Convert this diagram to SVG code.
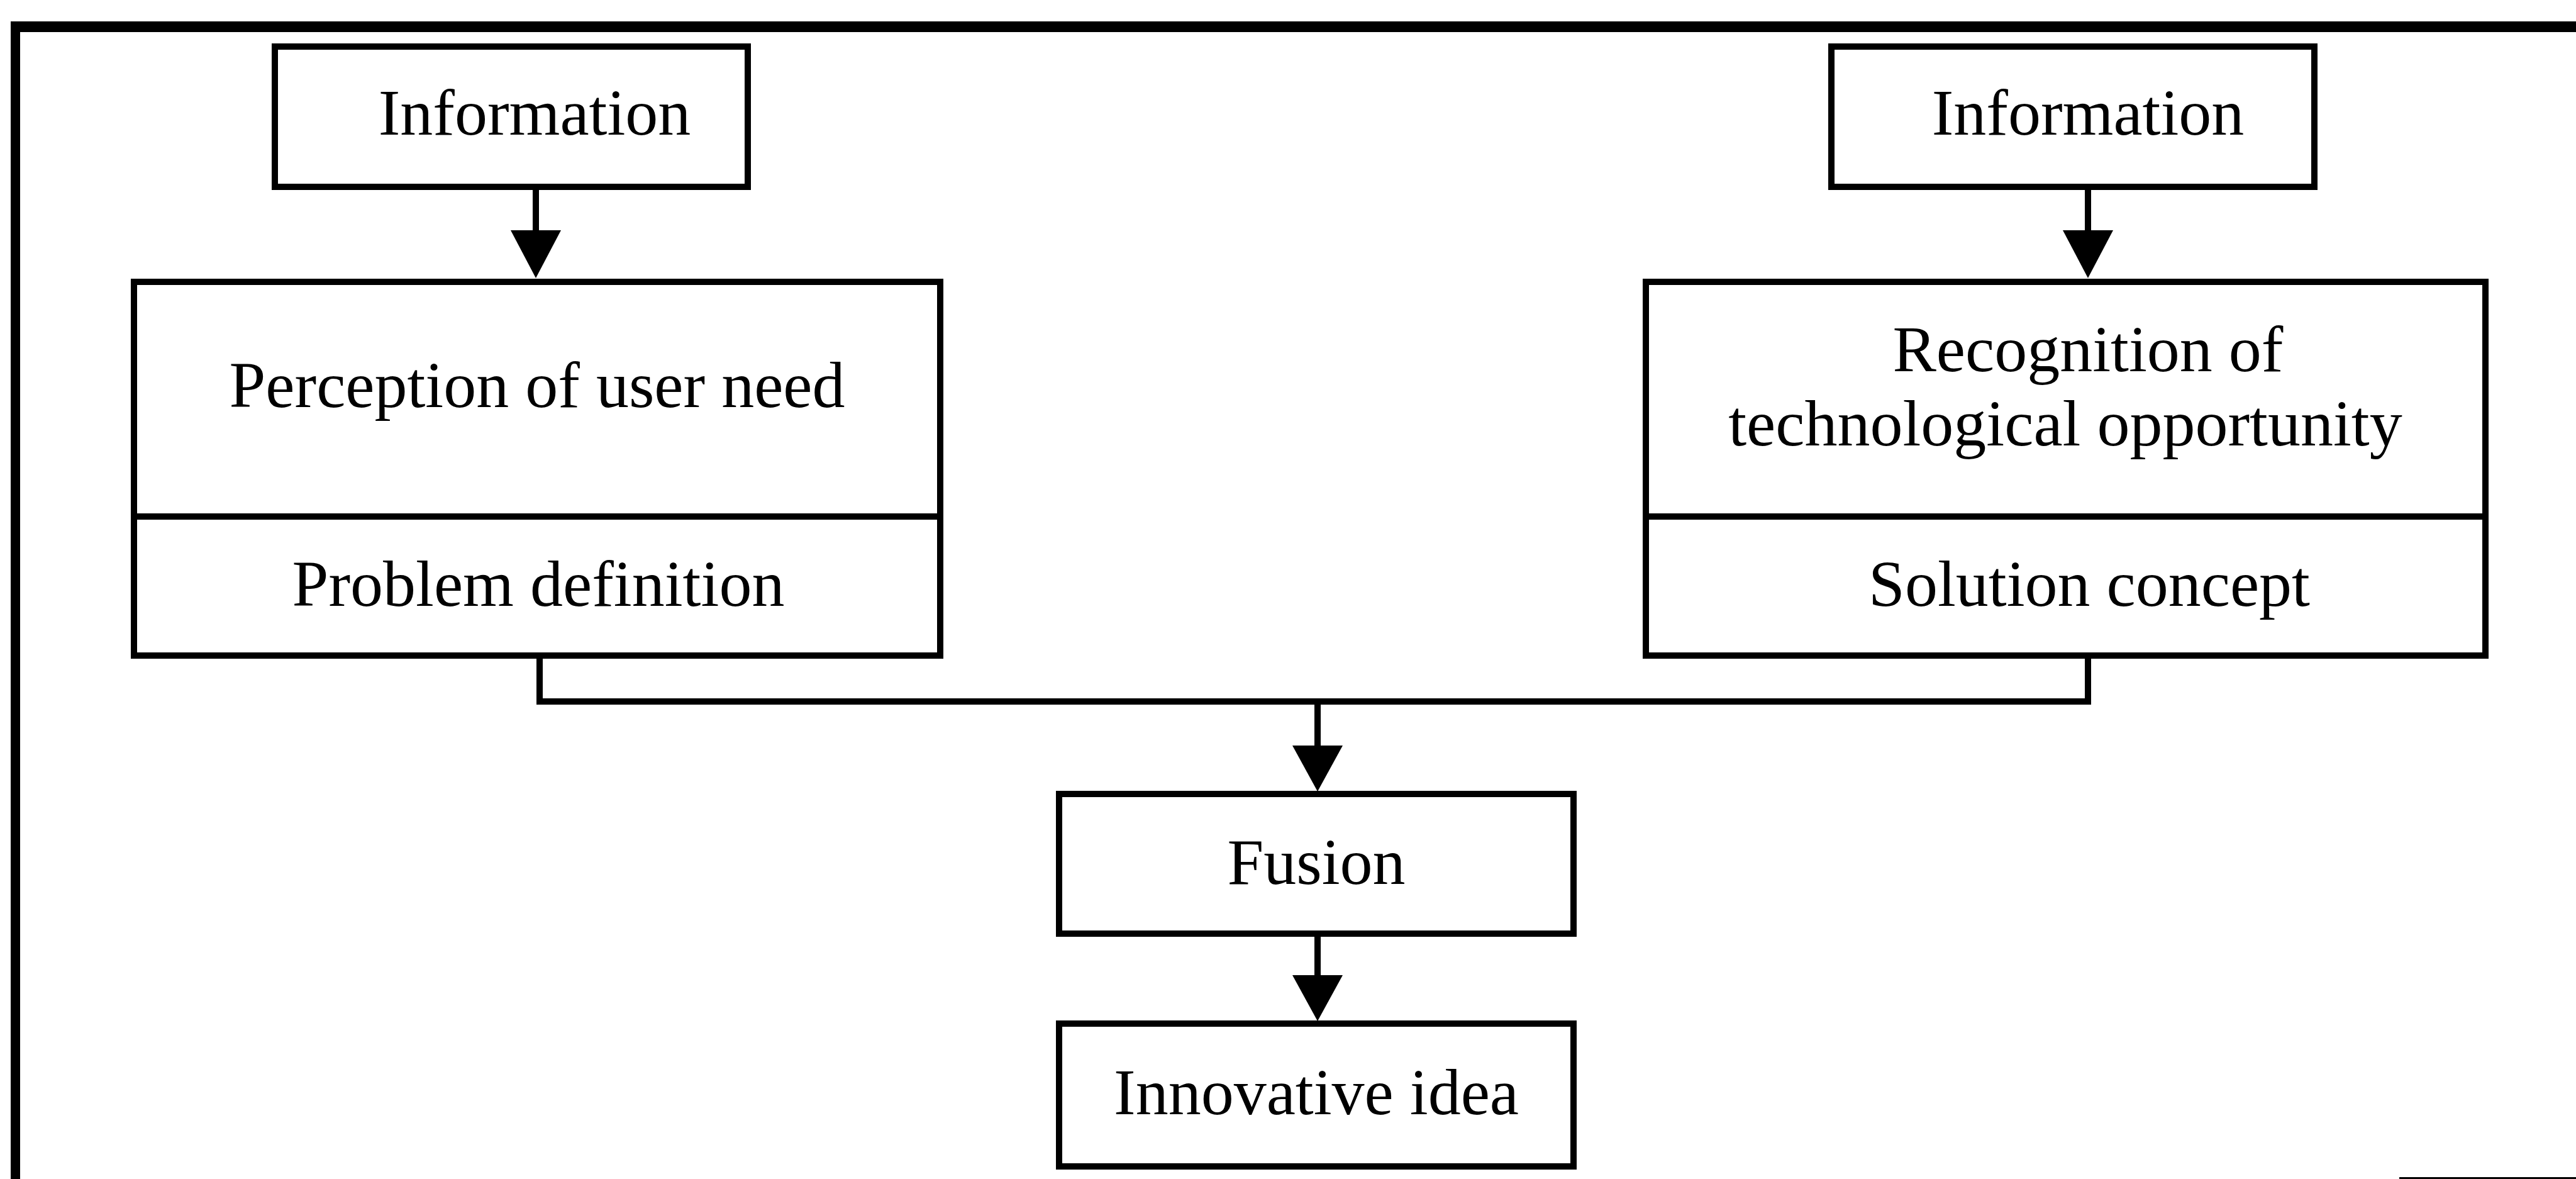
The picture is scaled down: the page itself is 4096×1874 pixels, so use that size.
<svg xmlns="http://www.w3.org/2000/svg" width="4096" height="1874" viewBox="0 0 4096 1874">
  <defs>
    <style>
      .box { fill: #ffffff; stroke: #000000; stroke-width: 10; }
      .div { stroke: #000000; stroke-width: 10; fill: none; }
      .wire { stroke: #000000; stroke-width: 10; fill: none; }
      .head { fill: #000000; }
      .lbl { font-family: "Liberation Serif", "Times New Roman", serif; font-size: 104px; fill: #000000; text-anchor: middle; }
    </style>
  </defs>
  <rect width="4096" height="1874" fill="#ffffff"/>

  <!-- outer frame -->
  <g id="frame">
    <rect x="17" y="34" width="4079" height="17" fill="#000000"/>
    <rect x="17" y="34" width="15" height="1840" fill="#000000"/>
    <rect x="3815" y="1871" width="281" height="3" fill="#000000"/>
  </g>

  <!-- connectors -->
  <g id="connectors">
    <line class="wire" x1="852" y1="297" x2="852" y2="370"/>
    <polygon class="head" points="812,366 892,366 852,442"/>
    <line class="wire" x1="3320" y1="297" x2="3320" y2="370"/>
    <polygon class="head" points="3280,366 3360,366 3320,442"/>
    <polyline class="wire" points="858,1042 858,1115 3320,1115 3320,1042"/>
    <line class="wire" x1="2095" y1="1115" x2="2095" y2="1190"/>
    <polygon class="head" points="2055,1185 2135,1185 2095,1258"/>
    <line class="wire" x1="2095" y1="1484" x2="2095" y2="1555"/>
    <polygon class="head" points="2055,1550 2135,1550 2095,1623"/>
  </g>

  <g id="info-left">
    <rect class="box" x="437" y="74" width="752" height="223"/>
    <text class="lbl" x="850" y="214">Information</text>
  </g>

  <g id="info-right">
    <rect class="box" x="2912" y="74" width="768" height="223"/>
    <text class="lbl" x="3320" y="214">Information</text>
  </g>

  <g id="user-need">
    <rect class="box" x="213" y="448" width="1282" height="594"/>
    <line class="div" x1="213" y1="821" x2="1495" y2="821"/>
    <text class="lbl" x="854" y="647">Perception of user need</text>
    <text class="lbl" x="856" y="963">Problem definition</text>
  </g>

  <g id="tech-opportunity">
    <rect class="box" x="2617" y="448" width="1335" height="594"/>
    <line class="div" x1="2617" y1="821" x2="3952" y2="821"/>
    <text class="lbl" x="3320" y="590">Recognition of</text>
    <text class="lbl" x="3284" y="708">technological opportunity</text>
    <text class="lbl" x="3322" y="963">Solution concept</text>
  </g>

  <g id="fusion">
    <rect class="box" x="1684" y="1262" width="818" height="222"/>
    <text class="lbl" x="2093" y="1405">Fusion</text>
  </g>

  <g id="innovative-idea">
    <rect class="box" x="1684" y="1627" width="818" height="227"/>
    <text class="lbl" x="2093" y="1771">Innovative idea</text>
  </g>
</svg>
